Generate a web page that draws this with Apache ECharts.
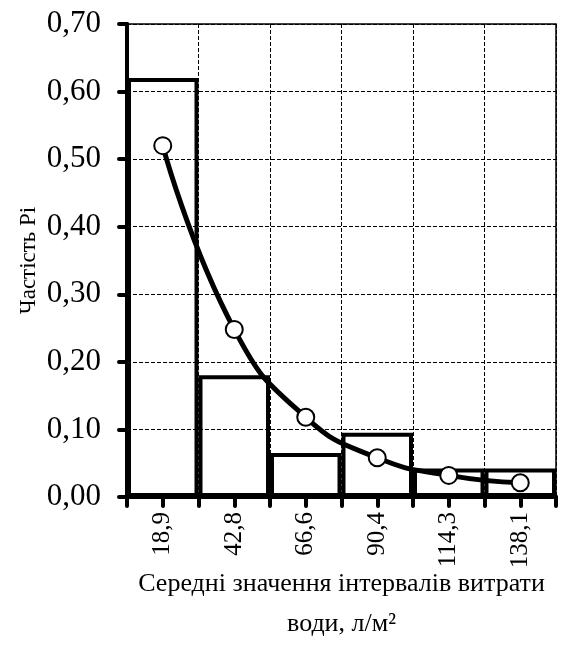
<!DOCTYPE html>
<html>
<head>
<meta charset="utf-8">
<script src="https://cdn.jsdelivr.net/npm/echarts@6/dist/echarts.min.js"></script>
<style>
  html, body { margin: 0; padding: 0; background: #fff; }
  #chart { width: 561px; height: 649px; }
</style>
</head>
<body>
<div id="chart"></div>
<script>
// середні значення інтервалів
var categories = ['18,9', '42,8', '66,6', '90,4', '114,3', '138,1'];
// гістограма частостей
var histValues = [0.62, 0.18, 0.065, 0.095, 0.042, 0.042];
// вирівнююча крива
var curveValues = [0.52, 0.248, 0.118, 0.058, 0.032, 0.021];
var yTicks = [0, 0.1, 0.2, 0.3, 0.4, 0.5, 0.6, 0.7];

var serif = 'Liberation Serif';
var myChart = echarts.init(document.getElementById('chart'));

myChart.setOption({
    animation: false,
    backgroundColor: '#fff',
    grid: {
        left: 127,
        right: 5,
        top: 24,
        bottom: 152,
        outerBoundsMode: 'none',
        containLabel: false,
        show: true,
        borderColor: '#000',
        borderWidth: 1.5,
        backgroundColor: 'transparent'
    },
    xAxis: [
        {
            type: 'category',
            data: categories,
            boundaryGap: true,
            axisLine: { lineStyle: { color: '#000', width: 4 } },
            axisTick: { show: true, interval: 0, length: 9, lineStyle: { color: '#000', width: 4, cap: 'round' } },
            axisLabel: {
                rotate: 90,
                margin: 15,
                color: '#000',
                fontFamily: serif,
                fontSize: 25
            },
            splitLine: { show: true, interval: 0, lineStyle: { color: '#000', width: 1, type: [4, 2] } },
            name: 'Середні значення інтервалів витрати\nводи, л/м²',
            nameLocation: 'middle',
            nameGap: 67,
            nameMoveOverlap: false,
            nameTextStyle: { color: '#000', fontFamily: serif, fontSize: 26, lineHeight: 40, verticalAlign: 'top' }
        },
        {
            // проміжні поділки по центрах інтервалів
            type: 'category',
            data: categories,
            position: 'top',
            offset: -473,
            boundaryGap: true,
            axisLine: { show: false },
            axisTick: { show: true, inside: true, interval: 0, alignWithLabel: true, length: 9, lineStyle: { color: '#000', width: 4, cap: 'round' } },
            axisLabel: { show: false },
            splitLine: { show: false }
        }
    ],
    yAxis: {
        type: 'value',
        min: yTicks[0],
        max: yTicks[yTicks.length - 1],
        interval: 0.1,
        axisLine: { show: true, lineStyle: { color: '#000', width: 4 } },
        axisTick: { show: true, length: 8, lineStyle: { color: '#000', width: 4, cap: 'round' } },
        axisLabel: {
            margin: 26,
            color: '#000',
            fontFamily: serif,
            fontSize: 31,
            formatter: function (v) { return v.toFixed(2).replace('.', ','); }
        },
        splitLine: { show: true, lineStyle: { color: '#000', width: 1, type: [4, 2] } },
        name: 'Частість Pi',
        nameLocation: 'middle',
        nameRotate: 90,
        nameGap: 87,
        nameMoveOverlap: false,
        nameTextStyle: { color: '#000', fontFamily: serif, fontSize: 23 }
    },
    series: [
        {
            type: 'bar',
            data: histValues,
            barWidth: '100%',
            itemStyle: { color: 'rgba(255,255,255,0)', borderColor: '#000', borderWidth: 4 },
            z: 2
        },
        {
            type: 'line',
            data: curveValues,
            smooth: true,
            symbol: 'circle',
            symbolSize: 17,
            lineStyle: { color: '#000', width: 5 },
            itemStyle: { color: '#fff', borderColor: '#000', borderWidth: 2 },
            z: 3
        }
    ]
});

window.onresize = function () {
    myChart.resize();
};
</script>
</body>
</html>
